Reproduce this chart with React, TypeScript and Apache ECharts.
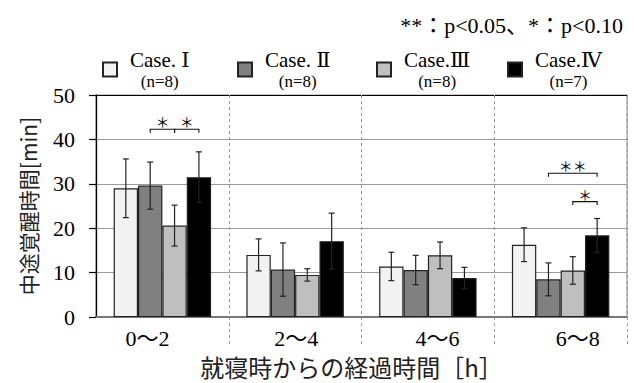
import { useEffect, useRef } from 'react';
import * as echarts from 'echarts';

// ---- data ----
const categories = ['0〜2', '2〜4', '4〜6', '6〜8'];
const caseNames = ['Case. Ⅰ', 'Case. Ⅱ', 'Case.Ⅲ', 'Case.Ⅳ'];
const caseCounts = ['(n=8)', '(n=8)', '(n=8)', '(n=7)'];
const caseI = [29.0, 14.0, 11.4, 16.3];
const caseII = [29.6, 10.7, 10.6, 8.5];
const caseIII = [20.6, 9.5, 13.9, 10.5];
const caseIV = [31.5, 17.1, 8.8, 18.4];
const errI = [6.6, 3.6, 3.2, 3.8];
const errII = [5.3, 6.0, 3.3, 3.7];
const errIII = [4.6, 1.4, 3.0, 3.1];
const errIV = [5.7, 6.3, 2.4, 3.8];
const sigCategory = [0, 0, 3, 3];
const sigFrom = [1, 2, 1, 2];
const sigTo = [2, 3, 3, 3];
const sigLevel = [42.3, 42.3, 32.4, 26.0];
const sigLabels = ['＊', '＊', '＊＊', '＊'];
const yTicks = { min: 0, max: 50, interval: 10 };
const noteText = '**：p<0.05、*：p<0.10';
const yName = '中途覚醒時間[min]';
const xName = '就寝時からの経過時間［h］';

const means = [caseI, caseII, caseIII, caseIV];
const errs = [errI, errII, errIII, errIV];
const colors = ['#f2f2f2', '#808080', '#bfbfbf', '#000000'];
const legendLefts = [102, 237, 376, 507];
const labelPads = [
  [0, 30, 0, 0],
  [0, 0, 0, 2],
  [0, 0, 0, 19],
  [0, 0, 0, 34],
];

const GAP = 0.266;
const SERIF = 'Liberation Serif, Times New Roman, Times, DejaVu Serif, Noto Sans CJK JP, serif';
const CJK = 'Noto Sans CJK JP, sans-serif';

export default function App() {
  const ref = useRef<HTMLDivElement>(null);
  useEffect(() => {
    if (!ref.current) return;
    const chart = echarts.init(ref.current, null, { renderer: 'svg' });

    const barSeries = caseNames.map((name, s) => ({
      name,
      type: 'bar',
      data: means[s],
      barGap: '0%',
      barCategoryGap: GAP * 100 + '%',
      itemStyle: { color: colors[s], borderColor: '#222', borderWidth: 1.2 },
      z: 2,
    }));

    const errSeries = caseNames.map((name, s) => ({
      type: 'custom',
      name: 'err' + s,
      z: 4,
      silent: true,
      itemStyle: { color: '#222' },
      data: categories.map((_, i) => [i, means[s][i], errs[s][i]]),
      encode: { x: 0, y: 1 },
      renderItem: (params: any, api: any) => {
        const cat = api.value(0);
        const mean = api.value(1);
        const err = api.value(2);
        const band = api.size([1, 0])[0];
        const bw = (band * (1 - GAP)) / 4;
        const x = api.coord([cat, mean])[0] + (s - 1.5) * bw;
        const yTop = api.coord([cat, mean + err])[1];
        const yBot = api.coord([cat, mean - err])[1];
        const style = { stroke: '#222', lineWidth: 1.2, fill: null };
        return {
          type: 'group',
          children: [
            { type: 'line', shape: { x1: x, y1: yTop, x2: x, y2: yBot }, style },
            { type: 'line', shape: { x1: x - 3, y1: yTop, x2: x + 3, y2: yTop }, style },
            { type: 'line', shape: { x1: x - 3, y1: yBot, x2: x + 3, y2: yBot }, style },
          ],
        };
      },
    }));

    const sigSeries = {
      type: 'custom',
      name: 'sig',
      z: 5,
      silent: true,
      itemStyle: { color: '#000' },
      data: sigCategory.map((c, i) => [c, sigLevel[i], sigFrom[i], sigTo[i]]),
      encode: { x: 0, y: 1 },
      renderItem: (params: any, api: any) => {
        const cat = api.value(0);
        const lv = api.value(1);
        const a = api.value(2);
        const b = api.value(3);
        const band = api.size([1, 0])[0];
        const bw = (band * (1 - GAP)) / 4;
        const p = api.coord([cat, lv]);
        const x1 = p[0] + (a - 1.5) * bw;
        const x2 = p[0] + (b - 1.5) * bw;
        const y = p[1];
        return {
          type: 'group',
          children: [
            {
              type: 'polyline',
              shape: { points: [[x1, y + 3.5], [x1, y], [x2, y], [x2, y + 3.5]] },
              style: { stroke: '#111', lineWidth: 1.1, fill: null },
            },
            {
              type: 'text',
              x: (x1 + x2) / 2,
              y: y - 1,
              style: {
                text: sigLabels[params.dataIndex],
                fontSize: 14,
                fontFamily: CJK,
                fill: '#000',
                align: 'center',
                verticalAlign: 'bottom',
              },
            },
          ],
        };
      },
    };

    chart.setOption({
      animation: false,
      backgroundColor: '#fff',
      title: {
        text: noteText,
        right: 6,
        top: 9,
        textStyle: { fontFamily: SERIF, fontSize: 22, fontWeight: 'normal', color: '#000' },
      },
      legend: caseNames.map((name, s) => ({
        data: [name],
        left: legendLefts[s],
        top: 49,
        padding: 0,
        itemWidth: 14,
        itemHeight: 14,
        icon: 'rect',
        selectedMode: false,
        formatter: (n: string) => `{a|${n}}\n{b|${caseCounts[s]}}`,
        textStyle: {
          color: '#000',
          fontFamily: SERIF,
          rich: {
            a: { fontFamily: SERIF, fontSize: 21, lineHeight: 23, color: '#000', padding: [0, 0, 0, 8] },
            b: { fontFamily: SERIF, fontSize: 17, lineHeight: 20, color: '#000', padding: [0, 0, 0, 8], align: 'center' },
          },
        },
      })),
      grid: {
        left: 96,
        right: 7,
        top: 95,
        bottom: 61,
        show: true,
        borderColor: '#999',
        borderWidth: 1.2,
        containLabel: false,
      },
      xAxis: {
        type: 'category',
        data: categories,
        boundaryGap: true,
        axisLine: { show: true, lineStyle: { color: '#777', width: 2 } },
        axisTick: {
          show: true,
          length: 30,
          interval: (i: number) => i !== 0,
          lineStyle: { color: '#999', type: [3, 3], width: 1 },
        },
        splitLine: { show: true, lineStyle: { color: '#999', type: [3, 3], width: 1 } },
        axisLabel: {
          margin: 10,
          color: '#000',
          fontFamily: SERIF,
          fontSize: 22,
          formatter: (v: string, i: number) => `{l${i}|${v}}`,
          rich: Object.fromEntries(
            labelPads.map((p, i) => [
              'l' + i,
              { padding: p, fontFamily: SERIF, fontSize: 22, color: '#000' },
            ])
          ),
        },
        name: xName,
        nameLocation: 'middle',
        nameGap: 34,
        nameTextStyle: {
          fontFamily: CJK,
          fontSize: 24,
          color: '#222',
          padding: [0, 20, 0, 0],
        },
      },
      yAxis: {
        type: 'value',
        min: yTicks.min,
        max: yTicks.max,
        interval: yTicks.interval,
        axisLine: { show: true, lineStyle: { color: '#000', width: 1.3 } },
        axisTick: { show: true, inside: false, length: 7, lineStyle: { color: '#000', width: 1.2 } },
        splitLine: {
          show: true,
          lineStyle: { color: ['#999', '#999', '#999', '#999', '#999', '#000'], width: 1.2 },
        },
        axisLabel: { margin: 21, color: '#000', fontFamily: SERIF, fontSize: 22 },
        name: yName,
        nameLocation: 'middle',
        nameRotate: 90,
        nameGap: 58,
        nameTextStyle: { fontFamily: CJK, fontSize: 21, color: '#222' },
      },
      series: [...barSeries, ...errSeries, sigSeries],
    });

    return () => chart.dispose();
  }, []);

  return (
    <div
      ref={ref}
      style={{ position: 'fixed', left: 0, top: 0, width: 634, height: 383, background: '#fff' }}
    />
  );
}
